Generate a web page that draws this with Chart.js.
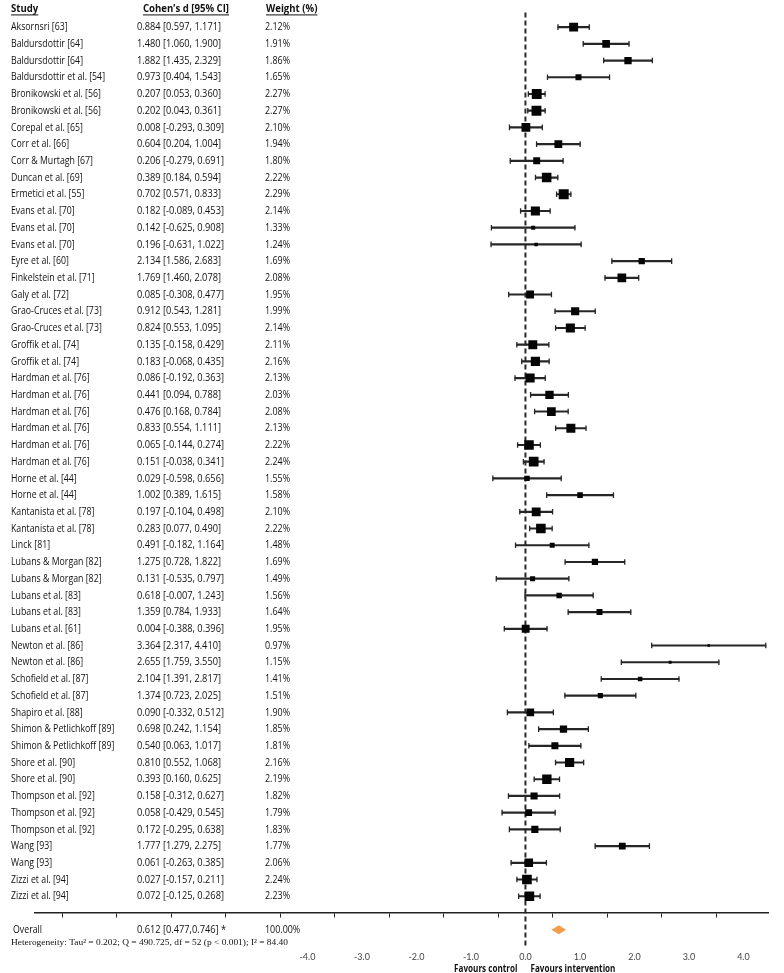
<!DOCTYPE html>
<html lang="en">
<head>
<meta charset="UTF-8">
<title>Forest plot</title>
<script src="https://cdn.jsdelivr.net/npm/chart.js"></script>
<style>
  body { margin: 0; background: #fff; }
  #wrap { position: relative; width: 784px; height: 973px; }
</style>
</head>
<body>
<div id="wrap"><canvas id="forest"></canvas></div>
<script>
const studies = [
  'Aksornsri [63]', 'Baldursdottir [64]', 'Baldursdottir [64]', 'Baldursdottir et al. [54]',
  'Bronikowski et al. [56]', 'Bronikowski et al. [56]', 'Corepal et al. [65]', 'Corr et al. [66]',
  'Corr & Murtagh [67]', 'Duncan et al. [69]', 'Ermetici et al. [55]', 'Evans et al. [70]',
  'Evans et al. [70]', 'Evans et al. [70]', 'Eyre et al. [60]', 'Finkelstein et al. [71]',
  'Galy et al. [72]', 'Grao-Cruces et al. [73]', 'Grao-Cruces et al. [73]', 'Groffik et al. [74]',
  'Groffik et al. [74]', 'Hardman et al. [76]', 'Hardman et al. [76]', 'Hardman et al. [76]',
  'Hardman et al. [76]', 'Hardman et al. [76]', 'Hardman et al. [76]', 'Horne et al. [44]',
  'Horne et al. [44]', 'Kantanista et al. [78]', 'Kantanista et al. [78]', 'Linck [81]',
  'Lubans & Morgan [82]', 'Lubans & Morgan [82]', 'Lubans et al. [83]', 'Lubans et al. [83]',
  'Lubans et al. [61]', 'Newton et al. [86]', 'Newton et al. [86]', 'Schofield et al. [87]',
  'Schofield et al. [87]', 'Shapiro et al. [88]', 'Shimon & Petlichkoff [89]', 'Shimon & Petlichkoff [89]',
  'Shore et al. [90]', 'Shore et al. [90]', 'Thompson et al. [92]', 'Thompson et al. [92]',
  'Thompson et al. [92]', 'Wang [93]', 'Wang [93]', 'Zizzi et al. [94]', 'Zizzi et al. [94]'
];
const effect = [
  0.884, 1.480, 1.882, 0.973, 0.207, 0.202, 0.008, 0.604, 0.206, 0.389, 0.702, 0.182, 0.142, 0.196,
  2.134, 1.769, 0.085, 0.912, 0.824, 0.135, 0.183, 0.086, 0.441, 0.476, 0.833, 0.065, 0.151, 0.029,
  1.002, 0.197, 0.283, 0.491, 1.275, 0.131, 0.618, 1.359, 0.004, 3.364, 2.655, 2.104, 1.374, 0.090,
  0.698, 0.540, 0.810, 0.393, 0.158, 0.058, 0.172, 1.777, 0.061, 0.027, 0.072
];
const ciLow = [
  0.597, 1.060, 1.435, 0.404, 0.053, 0.043, -0.293, 0.204, -0.279, 0.184, 0.571, -0.089, -0.625, -0.631,
  1.586, 1.460, -0.308, 0.543, 0.553, -0.158, -0.068, -0.192, 0.094, 0.168, 0.554, -0.144, -0.038, -0.598,
  0.389, -0.104, 0.077, -0.182, 0.728, -0.535, -0.007, 0.784, -0.388, 2.317, 1.759, 1.391, 0.723, -0.332,
  0.242, 0.063, 0.552, 0.160, -0.312, -0.429, -0.295, 1.279, -0.263, -0.157, -0.125
];
const ciHigh = [
  1.171, 1.900, 2.329, 1.543, 0.360, 0.361, 0.309, 1.004, 0.691, 0.594, 0.833, 0.453, 0.908, 1.022,
  2.683, 2.078, 0.477, 1.281, 1.095, 0.429, 0.435, 0.363, 0.788, 0.784, 1.111, 0.274, 0.341, 0.656,
  1.615, 0.498, 0.490, 1.164, 1.822, 0.797, 1.243, 1.933, 0.396, 4.410, 3.550, 2.817, 2.025, 0.512,
  1.154, 1.017, 1.068, 0.625, 0.627, 0.545, 0.638, 2.275, 0.385, 0.211, 0.268
];
const weights = [
  2.12, 1.91, 1.86, 1.65, 2.27, 2.27, 2.10, 1.94, 1.80, 2.22, 2.29, 2.14, 1.33, 1.24,
  1.69, 2.08, 1.95, 1.99, 2.14, 2.11, 2.16, 2.13, 2.03, 2.08, 2.13, 2.22, 2.24, 1.55,
  1.58, 2.10, 2.22, 1.48, 1.69, 1.49, 1.56, 1.64, 1.95, 0.97, 1.15, 1.41, 1.51, 1.90,
  1.85, 1.81, 2.16, 2.19, 1.82, 1.79, 1.83, 1.77, 2.06, 2.24, 2.23
];
const overallEffect = 0.612;
const overallLow = 0.477;
const overallHigh = 0.746;
const overallWeight = 100.00;
const heterogeneity = 'Heterogeneity: Tau\u00B2 = 0.202; Q = 490.725, df = 52 (p < 0.001); I\u00B2 = 84.40';
const labelledTicks = [-4, 4];

const rows = studies.map((s, i) => i);
const axisRow = studies.length;        // x axis sits one row below the last study
const overallRow = studies.length + 1;

const ciText = i => `${effect[i].toFixed(3)} [${ciLow[i].toFixed(3)}, ${ciHigh[i].toFixed(3)}]`;

const ciData = rows.map(i => ({ x: [ciLow[i], ciHigh[i]], y: i }));
const capData = rows.flatMap(i => [{ x: ciLow[i], y: i }, { x: ciHigh[i], y: i }]);
const pointData = rows.map(i => ({ x: effect[i], y: i }));
// box side grows with study weight
const pointRadius = weights.map(w => Math.max(2.5, 6.2 * w - 4.2) / Math.SQRT2);

const bodyFont = '11px "Open Sans"';
const boldFont = 'bold 11px "Open Sans"';
const textColor = '#111';

// squeeze a font horizontally so a sample string takes the wanted width
function squeeze(ctx, font, sample, width) {
  ctx.font = font;
  return width / ctx.measureText(sample).width;
}

function drawText(ctx, str, x, y, font, k, align) {
  ctx.save();
  ctx.font = font;
  ctx.fillStyle = textColor;
  ctx.textBaseline = 'middle';
  ctx.textAlign = align || 'left';
  ctx.translate(x, y);
  ctx.scale(k, 1);
  ctx.fillText(str, 0, 0);
  ctx.restore();
}

const forestExtras = {
  id: 'forestExtras',
  beforeDatasetsDraw(chart) {
    const { ctx, scales: { x, y } } = chart;
    const x0 = x.getPixelForValue(0);
    ctx.save();
    ctx.strokeStyle = '#2a2a2a';
    ctx.lineWidth = 2;
    ctx.setLineDash([5, 3]);
    ctx.beginPath();
    ctx.moveTo(x0, y.getPixelForValue(-0.88));
    ctx.lineTo(x0, y.getPixelForValue(overallRow + 0.95));
    ctx.stroke();
    ctx.restore();
  },
  afterDraw(chart) {
    const { ctx, scales: { x, y } } = chart;
    ctx.save();
    const kStudy = squeeze(ctx, bodyFont, 'Baldursdottir et al. [54]', 94);
    const kCi = squeeze(ctx, bodyFont, ciText(0), 84);
    const kW = squeeze(ctx, bodyFont, '2.12%', 25);
    const kBold = squeeze(ctx, boldFont, 'Cohen\u2019s d [95% CI]', 86);

    // header
    const hy = y.getPixelForValue(-1.12);
    [['Study', 11], ['Cohen\u2019s d [95% CI]', 143], ['Weight (%)', 266]].forEach(([t, px]) => {
      drawText(ctx, t, px, hy, boldFont, kBold);
      ctx.font = boldFont;
      const w = ctx.measureText(t).width * kBold;
      ctx.strokeStyle = textColor;
      ctx.lineWidth = 1;
      ctx.beginPath();
      ctx.moveTo(px, hy + 6.5);
      ctx.lineTo(px + w, hy + 6.5);
      ctx.stroke();
    });

    rows.forEach(i => {
      const py = y.getPixelForValue(i);
      drawText(ctx, studies[i], 11, py, bodyFont, kStudy);
      drawText(ctx, ciText(i), 137, py, bodyFont, kCi);
      drawText(ctx, weights[i].toFixed(2) + '%', 265, py, bodyFont, kW);
    });

    // overall row
    const oy = y.getPixelForValue(overallRow);
    drawText(ctx, 'Overall', 13, oy, bodyFont, kStudy);
    drawText(ctx, `${overallEffect.toFixed(3)} [${overallLow.toFixed(3)},${overallHigh.toFixed(3)}] *`, 137, oy, bodyFont, kCi);
    drawText(ctx, overallWeight.toFixed(2) + '%', 265, oy, bodyFont, kW);

    const xl = x.getPixelForValue(overallLow), xm = x.getPixelForValue(overallEffect), xh = x.getPixelForValue(overallHigh);
    ctx.fillStyle = '#f39c4c';
    ctx.beginPath();
    ctx.moveTo(xl, oy);
    ctx.lineTo(xm, oy - 4.5);
    ctx.lineTo(xh, oy);
    ctx.lineTo(xm, oy + 4.5);
    ctx.closePath();
    ctx.fill();

    // heterogeneity line
    const serif = '9px "Liberation Serif"';
    const k2 = squeeze(ctx, serif, heterogeneity, 277);
    drawText(ctx, heterogeneity, 11, y.getPixelForValue(overallRow + 0.78), serif, k2);

    // favours labels
    const kFav = squeeze(ctx, boldFont, 'Favours intervention', 85);
    const x0 = x.getPixelForValue(0);
    const fy = y.getPixelForValue(overallRow + 2.33);
    drawText(ctx, 'Favours control', x0 - 8, fy, boldFont, kFav, 'right');
    drawText(ctx, 'Favours intervention', x0 + 5, fy, boldFont, kFav, 'left');
    ctx.restore();
  }
};

new Chart(document.getElementById('forest'), {
  type: 'bar',
  data: {
    datasets: [
      {
        type: 'bar', indexAxis: 'y', data: ciData,
        backgroundColor: '#262626', borderWidth: 0, barThickness: 1.5, order: 3
      },
      {
        type: 'scatter', data: capData, pointStyle: 'line', rotation: 90,
        pointRadius: 2.8, borderColor: '#262626', borderWidth: 1.3, order: 2
      },
      {
        type: 'scatter', data: pointData, pointStyle: 'rect', pointRadius: pointRadius,
        backgroundColor: '#050505', borderWidth: 0, order: 1
      }
    ]
  },
  options: {
    responsive: true,
    maintainAspectRatio: false,
    animation: false,
    layout: { padding: { left: 2, right: 4, top: 0, bottom: 0 } },
    plugins: { legend: { display: false }, tooltip: { enabled: false } },
    scales: {
      x: {
        type: 'linear', min: -9, max: 4.46, offset: false,
        position: { y: axisRow },
        ticks: {
          stepSize: 1, includeBounds: false, autoSkip: false, maxRotation: 0,
          padding: 35, color: '#444', font: { family: 'Lato', size: 9 },
          callback: v => (v >= labelledTicks[0] && v <= labelledTicks[1]) ? Number(v).toFixed(1) : ''
        },
        grid: { display: true, drawOnChartArea: false, drawTicks: true, tickLength: 4, color: '#222', lineWidth: 1 },
        border: { display: true, color: '#222', width: 1.5 }
      },
      y: { type: 'linear', reverse: true, min: -1.2, max: 56.17, offset: false, display: false }
    }
  },
  plugins: [forestExtras]
});
</script>
</body>
</html>
